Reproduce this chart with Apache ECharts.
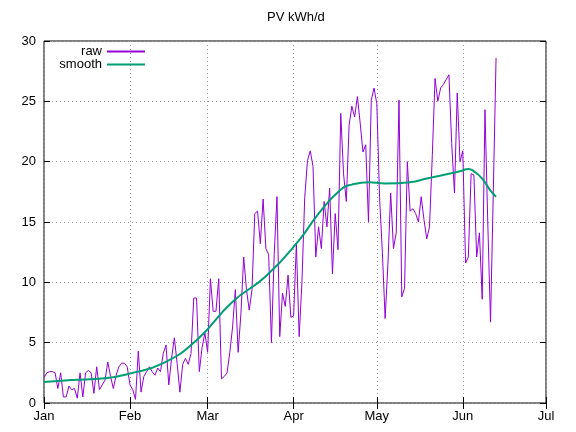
<!DOCTYPE html>
<html><head><meta charset="utf-8">
<script src="https://cdn.jsdelivr.net/npm/echarts@6/dist/echarts.min.js"></script>
<style>html,body{margin:0;padding:0;background:#fff}#c{width:576px;height:432px}</style>
</head><body><div id="c"></div>
<script>
// daily raw values (kWh/d), starting 2021-01-01
const rawJan = [2.1,2.5,2.6,2.6,2.5,1.2,2.5,0.5,0.5,1.4,1.1,1.2,0.4,2.5,0.5,2.5,2.7,2.5,0.8,3.0,1.1,1.5,1.9,3.4,2.2,1.2,2.3,3.0,3.3,3.3,3.0];
const rawFeb = [1.5,1.1,0.3,4.3,0.9,2.2,2.6,3.0,2.6,2.3,2.9,2.6,4.1,4.8,1.5,3.7,5.4,3.3,0.9,3.2,3.7,3.2,4.1,8.7,8.7,2.6,4.6,5.8];
const rawMar = [4.2,10.3,7.6,7.6,10.3,2.0,2.2,2.5,4.2,6.3,9.4,4.2,7.4,12.1,9.4,7.7,9.4,15.7,15.9,13.2,16.9,12.8,12.3,5.0,12.3,17.1,5.5,9.1,8.0,10.6,7.1];
const rawApr = [7.2,13.2,5.5,10.0,17.0,20.1,20.9,19.6,12.1,14.6,12.8,16.7,14.6,17.8,10.7,15.7,12.7,24.0,19.0,16.7,23.0,24.6,23.7,25.4,23.2,20.8,21.4,15.0,25.1,26.1];
const rawMay = [24.8,17.0,12.5,7.0,11.5,17.4,12.8,14.1,25.1,8.8,9.5,20.0,15.9,16.1,15.7,15.0,17.1,15.2,13.6,14.6,20.5,26.9,25.0,26.1,26.4,26.8,27.2,21.5,17.4,25.7,20.0];
const rawJun = [20.9,11.6,12.1,19.0,18.9,12.1,14.1,8.6,24.3,15.0,6.7,17.5,28.6];

// smoothed curve, read at key days (day index from Jan 1)
const smoothDays   = [0,10,22,31,43,55,68,80,92,99,107,111,117,123,132,138,144,150,153,155,158,161,163];
const smoothValues = [1.75,1.9,2.05,2.45,3.3,5.2,8.4,10.5,13.5,15.7,17.7,18.1,18.3,18.2,18.3,18.6,18.9,19.2,19.4,19.2,18.6,17.6,17.1];

const monthLabels = ['Jan','Feb','Mar','Apr','May','Jun','Jul'];
const yTicks = [0,5,10,15,20,25,30];

const DAY = 86400000;
const t0 = Date.UTC(2021,0,1);
const tEnd = Date.UTC(2021,6,1);
const raw = [].concat(rawJan, rawFeb, rawMar, rawApr, rawMay, rawJun);
const rawData = raw.map((v,i)=>[t0 + i*DAY, v]);
const smoothData = smoothDays.map((d,i)=>[t0 + d*DAY, smoothValues[i]]);

const FONT = 'Liberation Sans, Arial, sans-serif';
const chart = echarts.init(document.getElementById('c'), null, {renderer:'canvas'});
const xCommon = {
  type:'time', min:t0, max:tEnd, splitNumber:6,
  minInterval:28*DAY, maxInterval:31*DAY
};
chart.setOption({
  useUTC:true,
  animation:false,
  backgroundColor:'#fff',
  title:{text:'PV kWh/d', left:262, top:6,
    textStyle:{fontFamily:FONT, fontSize:13, fontWeight:'normal', color:'#000'}},
  legend:{
    orient:'vertical', left:56, top:45, align:'right', itemGap:0, padding:0,
    itemWidth:38, itemHeight:2, icon:'rect',
    textStyle:{fontFamily:FONT, fontSize:13, color:'#000', width:46, align:'right', lineHeight:12},
    data:[{name:'raw'},{name:'smooth'}]
  },
  grid:{left:44, right:30, top:41, bottom:29, show:true, borderColor:'#000', borderWidth:1},
  xAxis:[
    Object.assign({}, xCommon, {
      position:'bottom',
      axisLine:{show:false},
      axisTick:{show:true, inside:true, length:6, lineStyle:{color:'#000'}},
      axisLabel:{show:true, margin:7, color:'#000', fontFamily:FONT, fontSize:13,
        showMinLabel:true, showMaxLabel:true,
        formatter:(v)=>monthLabels[(new Date(v).getUTCMonth())] },
      splitLine:{show:true, lineStyle:{color:'#a0a0a0', type:[1,3], width:1}}
    }),
    Object.assign({}, xCommon, {
      position:'top',
      axisLine:{show:false},
      axisTick:{show:true, inside:true, length:6, lineStyle:{color:'#000'}},
      axisLabel:{show:false}, splitLine:{show:false}
    })
  ],
  yAxis:[
    {type:'value', min:yTicks[0], max:yTicks[yTicks.length-1], interval:5, position:'left',
     axisLine:{show:false},
     axisTick:{show:true, inside:true, length:6, lineStyle:{color:'#000'}},
     axisLabel:{margin:8, color:'#000', fontFamily:FONT, fontSize:13},
     splitLine:{show:true, lineStyle:{color:'#a0a0a0', type:[1,3], width:1}}},
    {type:'value', min:yTicks[0], max:yTicks[yTicks.length-1], interval:5, position:'right',
     axisLine:{show:false},
     axisTick:{show:true, inside:true, length:6, lineStyle:{color:'#000'}},
     axisLabel:{show:false}, splitLine:{show:false}}
  ],
  series:[
    {name:'raw', type:'line', xAxisIndex:0, yAxisIndex:0, data:rawData, showSymbol:false,
     color:'#9400d3', lineStyle:{width:1, color:'#9400d3'}},
    {name:'smooth', type:'line', xAxisIndex:0, yAxisIndex:0, data:smoothData, showSymbol:false,
     smooth:0.5, color:'#009e73', lineStyle:{width:2, color:'#009e73'}}
  ]
});
</script></body></html>
